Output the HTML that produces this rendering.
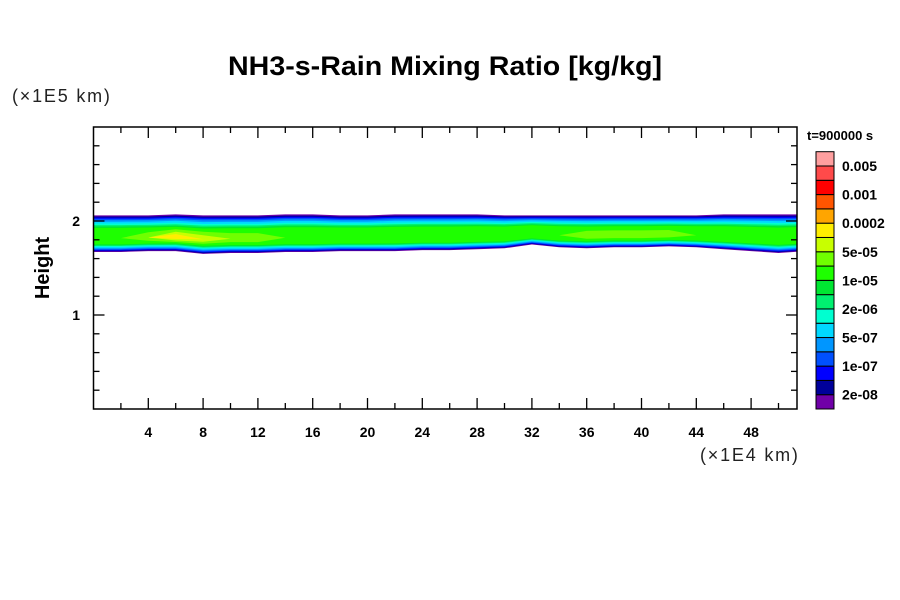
<!DOCTYPE html>
<html><head><meta charset="utf-8"><style>
html,body{margin:0;padding:0;background:#fff;width:900px;height:600px;overflow:hidden}
svg{display:block}
text{font-family:"Liberation Sans",Arial,sans-serif}
</style></head><body>
<svg id="chart" width="900" height="600" viewBox="0 0 900 600">
<text x="445" y="75" text-anchor="middle" font-size="27" font-weight="bold" textLength="434" lengthAdjust="spacingAndGlyphs">NH3-s-Rain Mixing Ratio [kg/kg]</text>
<text x="12" y="102" font-size="18" fill="#222" letter-spacing="1.8">(×1E5 km)</text>
<text x="700" y="461" font-size="18" fill="#222" letter-spacing="1.8">(×1E4 km)</text>
<text transform="translate(49,268) rotate(-90)" text-anchor="middle" font-size="20" font-weight="bold">Height</text>
<text x="807" y="140" font-size="13" font-weight="bold">t=900000 s</text>
<g id="plot"></g>
<g id="axes"></g>
<g id="cbar"></g>
</svg>
<script>
const xSamples = [0,2,4,6,8,10,12,14,16,18,20,22,24,26,28,30,32,34,36,38,40,42,44,46,48,50,52];
const topHeights = [2.06,2.06,2.06,2.07,2.06,2.06,2.06,2.07,2.07,2.06,2.06,2.07,2.07,2.07,2.07,2.06,2.06,2.06,2.06,2.06,2.06,2.06,2.06,2.07,2.07,2.07,2.07];
const bottomHeights = [1.67,1.67,1.68,1.68,1.65,1.66,1.66,1.67,1.67,1.68,1.68,1.68,1.69,1.69,1.7,1.71,1.75,1.72,1.71,1.72,1.72,1.73,1.72,1.7,1.68,1.66,1.68];
const peakLevels = [9,9,10,12,11,10,10,9,9,9,9,9,9,9,9,9,9,9,10,10,10,10,9,9,9,9,9];
const levelColors = ["#7000a8","#00009a","#0000ff","#0050ff","#0096ff","#00d8ff","#00ffd0","#00f070","#00e632","#1eff00","#70ff00","#c8ff00","#ffee00","#ffa500","#ff5500","#ff0000","#ff4a4a","#ff9f9f"];
const cbarLabels = ["0.005","0.001","0.0002","5e-05","1e-05","2e-06","5e-07","1e-07","2e-08"];
const xTicks = [4,8,12,16,20,24,28,32,36,40,44,48];
const yTicks = [1,2];

const X0=93.5,X1=797,Y0=409,Y1=127,XMAX=51.35,YMAX=3.0;
const xs=v=>X0+(X1-X0)*v/XMAX;
const ys=v=>Y0-(Y0-Y1)*v/YMAX;
const NS='http://www.w3.org/2000/svg';
function mk(tag,attrs,parent){const e=document.createElementNS(NS,tag);for(const k in attrs)e.setAttribute(k,attrs[k]);parent.appendChild(e);return e;}
const baseFrac=[0,0.05,0.1,0.15,0.21,0.28,0.36,0.43,0.49,0.55];
function frac(j,p){
  if(j>p) return 1;
  if(j<=9) return baseFrac[j];
  return 0.55+0.42*((j-9)/(p-8));
}

const plot=document.getElementById('plot');
const clip=mk('clipPath',{id:'pc'},plot);
mk('rect',{x:X0,y:Y1,width:X1-X0,height:Y0-Y1},clip);
const pg=mk('g',{'clip-path':'url(#pc)'},plot);
const maxL=Math.max(...peakLevels);
for(let j=0;j<=maxL;j++){
  const up=[],dn=[];
  for(let i=0;i<xSamples.length;i++){
    const t=topHeights[i],b=bottomHeights[i],p=peakLevels[i];
    const c=b+0.38*(t-b);
    const f=frac(j,p);
    const tj=t-(t-c)*f, bj=b+(c-b)*f;
    up.push(xs(xSamples[i]).toFixed(1)+','+ys(tj).toFixed(1));
    dn.unshift(xs(xSamples[i]).toFixed(1)+','+ys(bj).toFixed(1));
  }
  const poly=mk('polygon',{points:up.concat(dn).join(' '),fill:levelColors[j]},pg);
  
  
}

const ax=document.getElementById('axes');
mk('rect',{x:X0,y:Y1,width:X1-X0,height:Y0-Y1,fill:'none',stroke:'#000','stroke-width':1.5},ax);
for(let v=2;v<XMAX;v+=2){
  const x=xs(v),L=(v%4===0)?11:6;
  mk('line',{x1:x,y1:Y0,x2:x,y2:Y0-L,stroke:'#000','stroke-width':1.3},ax);
  mk('line',{x1:x,y1:Y1,x2:x,y2:Y1+L,stroke:'#000','stroke-width':1.3},ax);
}
for(let k=1;k<15;k++){
  const v=k*0.2,y=ys(v),L=(k%5===0)?11:6;
  mk('line',{x1:X0,y1:y,x2:X0+L,y2:y,stroke:'#000','stroke-width':1.3},ax);
  mk('line',{x1:X1,y1:y,x2:X1-L,y2:y,stroke:'#000','stroke-width':1.3},ax);
}
xTicks.forEach(v=>{
  const t=mk('text',{x:xs(v),y:437,'text-anchor':'middle','font-size':14,'font-weight':'bold'},ax);
  t.textContent=v;
  
  
});
yTicks.forEach(v=>{
  const t=mk('text',{x:80,y:ys(v)+5,'text-anchor':'end','font-size':14,'font-weight':'bold'},ax);
  t.textContent=v;
  
  
});

const cb=document.getElementById('cbar');
const CX=816,CW=18,CT=151.7,CB=409;
const n=levelColors.length,h=(CB-CT)/n;
for(let i=0;i<n;i++){
  const r=mk('rect',{x:CX,y:CB-(i+1)*h,width:CW,height:h,fill:levelColors[i],stroke:'#000','stroke-width':1},cb);
  
  
}
cbarLabels.forEach((s,k)=>{
  const y=CT+(2*k+1)*h;
  const t=mk('text',{x:842,y:y+5,'font-size':14,'font-weight':'bold'},cb);
  t.textContent=s;
  
  
});
</script>
</body></html>
